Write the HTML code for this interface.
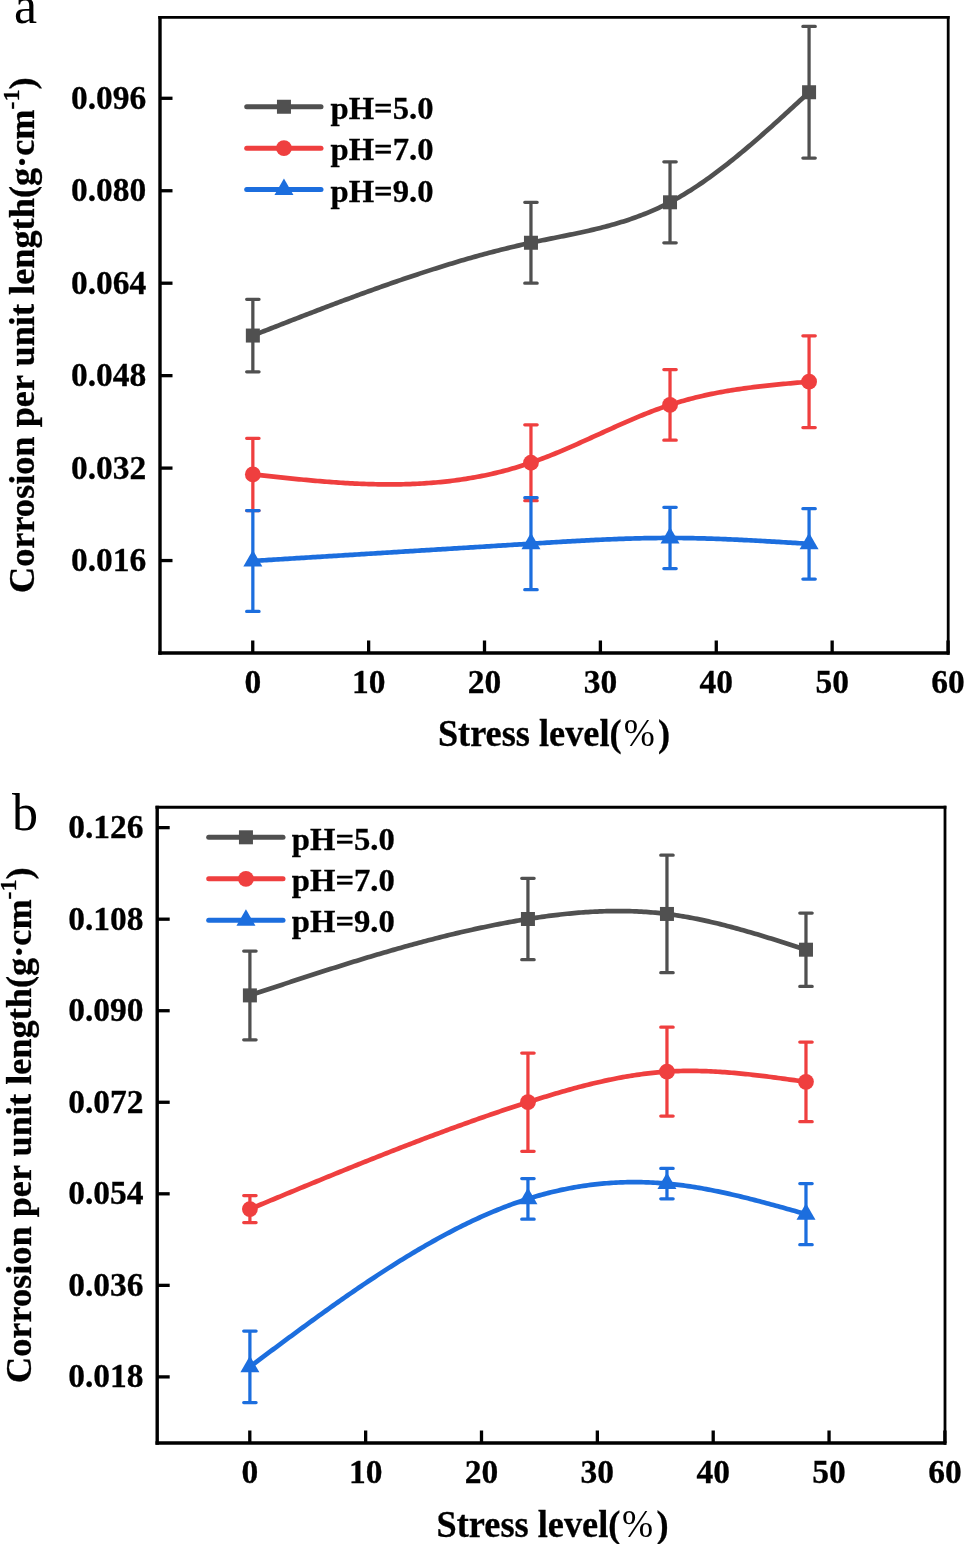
<!DOCTYPE html>
<html><head><meta charset="utf-8"><style>
html,body{margin:0;padding:0;background:#fff;}
body{width:964px;height:1544px;overflow:hidden;}
svg{display:block;will-change:transform;}
</style></head><body>
<svg width="964" height="1544" viewBox="0 0 964 1544">
<rect width="964" height="1544" fill="#fff"/>
<path d="M252.75 335.55 L255.07 334.64 L257.39 333.73 L259.70 332.82 L262.02 331.92 L264.34 331.01 L266.66 330.10 L268.97 329.19 L271.29 328.29 L273.61 327.38 L275.93 326.47 L278.24 325.57 L280.56 324.66 L282.88 323.76 L285.20 322.85 L287.51 321.95 L289.83 321.05 L292.15 320.15 L294.47 319.25 L296.78 318.35 L299.10 317.45 L301.42 316.55 L303.74 315.66 L306.05 314.76 L308.37 313.87 L310.69 312.98 L313.01 312.09 L315.33 311.20 L317.64 310.31 L319.96 309.43 L322.28 308.54 L324.60 307.66 L326.91 306.78 L329.23 305.90 L331.55 305.02 L333.87 304.15 L336.18 303.28 L338.50 302.40 L340.82 301.54 L343.14 300.67 L345.45 299.80 L347.77 298.94 L350.09 298.08 L352.41 297.22 L354.72 296.37 L357.04 295.52 L359.36 294.66 L361.68 293.82 L363.99 292.97 L366.31 292.13 L368.63 291.29 L370.95 290.45 L373.27 289.62 L375.58 288.79 L377.90 287.96 L380.22 287.14 L382.54 286.31 L384.85 285.50 L387.17 284.68 L389.49 283.87 L391.81 283.06 L394.12 282.25 L396.44 281.45 L398.76 280.65 L401.08 279.86 L403.39 279.07 L405.71 278.28 L408.03 277.49 L410.35 276.71 L412.66 275.94 L414.98 275.17 L417.30 274.40 L419.62 273.63 L421.93 272.87 L424.25 272.12 L426.57 271.36 L428.89 270.62 L431.21 269.87 L433.52 269.13 L435.84 268.40 L438.16 267.67 L440.48 266.94 L442.79 266.22 L445.11 265.50 L447.43 264.79 L449.75 264.08 L452.06 263.38 L454.38 262.68 L456.70 261.99 L459.02 261.30 L461.33 260.62 L463.65 259.94 L465.97 259.27 L468.29 258.60 L470.60 257.94 L472.92 257.28 L475.24 256.63 L477.56 255.99 L479.87 255.35 L482.19 254.71 L484.51 254.08 L486.83 253.46 L489.15 252.84 L491.46 252.23 L493.78 251.62 L496.10 251.02 L498.42 250.42 L500.73 249.84 L503.05 249.25 L505.37 248.68 L507.69 248.11 L510.00 247.54 L512.32 246.98 L514.64 246.43 L516.96 245.89 L519.27 245.35 L521.59 244.81 L523.91 244.29 L526.23 243.77 L528.54 243.26 L530.86 242.75 L533.18 242.25 L535.50 241.76 L537.81 241.27 L540.13 240.79 L542.45 240.31 L544.77 239.83 L547.09 239.36 L549.40 238.89 L551.72 238.42 L554.04 237.96 L556.36 237.49 L558.67 237.03 L560.99 236.56 L563.31 236.09 L565.63 235.62 L567.94 235.15 L570.26 234.67 L572.58 234.19 L574.90 233.71 L577.21 233.22 L579.53 232.72 L581.85 232.22 L584.17 231.71 L586.48 231.20 L588.80 230.67 L591.12 230.14 L593.44 229.60 L595.75 229.05 L598.07 228.48 L600.39 227.91 L602.71 227.32 L605.03 226.72 L607.34 226.11 L609.66 225.48 L611.98 224.84 L614.30 224.19 L616.61 223.52 L618.93 222.83 L621.25 222.12 L623.57 221.40 L625.88 220.66 L628.20 219.90 L630.52 219.12 L632.84 218.32 L635.15 217.50 L637.47 216.66 L639.79 215.80 L642.11 214.91 L644.42 214.01 L646.74 213.07 L649.06 212.12 L651.38 211.13 L653.69 210.13 L656.01 209.09 L658.33 208.03 L660.65 206.94 L662.97 205.83 L665.28 204.68 L667.60 203.51 L669.92 202.30 L672.24 201.06 L674.55 199.80 L676.87 198.50 L679.19 197.18 L681.51 195.83 L683.82 194.44 L686.14 193.04 L688.46 191.60 L690.78 190.14 L693.09 188.65 L695.41 187.13 L697.73 185.59 L700.05 184.03 L702.36 182.44 L704.68 180.83 L707.00 179.20 L709.32 177.54 L711.63 175.86 L713.95 174.16 L716.27 172.44 L718.59 170.70 L720.91 168.93 L723.22 167.15 L725.54 165.35 L727.86 163.53 L730.18 161.70 L732.49 159.84 L734.81 157.97 L737.13 156.08 L739.45 154.18 L741.76 152.26 L744.08 150.33 L746.40 148.38 L748.72 146.42 L751.03 144.45 L753.35 142.46 L755.67 140.46 L757.99 138.45 L760.30 136.42 L762.62 134.39 L764.94 132.35 L767.26 130.29 L769.57 128.23 L771.89 126.16 L774.21 124.08 L776.53 121.99 L778.85 119.90 L781.16 117.80 L783.48 115.69 L785.80 113.58 L788.12 111.46 L790.43 109.34 L792.75 107.21 L795.07 105.08 L797.39 102.94 L799.70 100.81 L802.02 98.67 L804.34 96.53 L806.66 94.39 L808.97 92.25" fill="none" stroke="#505050" stroke-width="4.7" stroke-linejoin="round"/>
<path d="M252.85 299.30V371.80M246.65 299.30H259.05M246.65 371.80H259.05" stroke="#505050" stroke-width="3.25" stroke-linecap="round" fill="none"/>
<path d="M530.96 202.30V283.20M524.76 202.30H537.16M524.76 283.20H537.16" stroke="#505050" stroke-width="3.25" stroke-linecap="round" fill="none"/>
<path d="M670.02 161.80V242.80M663.82 161.80H676.22M663.82 242.80H676.22" stroke="#505050" stroke-width="3.25" stroke-linecap="round" fill="none"/>
<path d="M809.07 26.40V158.10M802.87 26.40H815.27M802.87 158.10H815.27" stroke="#505050" stroke-width="3.25" stroke-linecap="round" fill="none"/>
<rect x="245.85" y="328.55" width="14.0" height="14.0" fill="#505050"/>
<rect x="523.96" y="235.75" width="14.0" height="14.0" fill="#505050"/>
<rect x="663.02" y="195.30" width="14.0" height="14.0" fill="#505050"/>
<rect x="802.07" y="85.25" width="14.0" height="14.0" fill="#505050"/>
<path d="M252.75 474.40 L255.07 474.65 L257.39 474.91 L259.70 475.16 L262.02 475.42 L264.34 475.67 L266.66 475.92 L268.97 476.17 L271.29 476.43 L273.61 476.67 L275.93 476.92 L278.24 477.17 L280.56 477.41 L282.88 477.66 L285.20 477.90 L287.51 478.14 L289.83 478.38 L292.15 478.61 L294.47 478.84 L296.78 479.07 L299.10 479.30 L301.42 479.52 L303.74 479.74 L306.05 479.96 L308.37 480.18 L310.69 480.39 L313.01 480.59 L315.33 480.80 L317.64 481.00 L319.96 481.19 L322.28 481.38 L324.60 481.57 L326.91 481.75 L329.23 481.93 L331.55 482.10 L333.87 482.27 L336.18 482.43 L338.50 482.59 L340.82 482.74 L343.14 482.89 L345.45 483.03 L347.77 483.16 L350.09 483.29 L352.41 483.41 L354.72 483.53 L357.04 483.64 L359.36 483.74 L361.68 483.84 L363.99 483.93 L366.31 484.01 L368.63 484.08 L370.95 484.15 L373.27 484.21 L375.58 484.26 L377.90 484.31 L380.22 484.35 L382.54 484.37 L384.85 484.39 L387.17 484.41 L389.49 484.41 L391.81 484.41 L394.12 484.39 L396.44 484.37 L398.76 484.34 L401.08 484.30 L403.39 484.25 L405.71 484.19 L408.03 484.12 L410.35 484.04 L412.66 483.95 L414.98 483.85 L417.30 483.74 L419.62 483.62 L421.93 483.49 L424.25 483.35 L426.57 483.20 L428.89 483.03 L431.21 482.86 L433.52 482.67 L435.84 482.48 L438.16 482.27 L440.48 482.05 L442.79 481.82 L445.11 481.57 L447.43 481.32 L449.75 481.05 L452.06 480.77 L454.38 480.47 L456.70 480.17 L459.02 479.85 L461.33 479.52 L463.65 479.17 L465.97 478.81 L468.29 478.44 L470.60 478.05 L472.92 477.65 L475.24 477.24 L477.56 476.81 L479.87 476.37 L482.19 475.91 L484.51 475.44 L486.83 474.96 L489.15 474.46 L491.46 473.94 L493.78 473.41 L496.10 472.86 L498.42 472.30 L500.73 471.73 L503.05 471.13 L505.37 470.53 L507.69 469.90 L510.00 469.26 L512.32 468.61 L514.64 467.93 L516.96 467.24 L519.27 466.54 L521.59 465.81 L523.91 465.07 L526.23 464.32 L528.54 463.54 L530.86 462.75 L533.18 461.94 L535.50 461.11 L537.81 460.27 L540.13 459.41 L542.45 458.54 L544.77 457.65 L547.09 456.75 L549.40 455.83 L551.72 454.90 L554.04 453.96 L556.36 453.01 L558.67 452.05 L560.99 451.08 L563.31 450.09 L565.63 449.10 L567.94 448.10 L570.26 447.09 L572.58 446.08 L574.90 445.06 L577.21 444.03 L579.53 442.99 L581.85 441.95 L584.17 440.91 L586.48 439.87 L588.80 438.82 L591.12 437.76 L593.44 436.71 L595.75 435.66 L598.07 434.60 L600.39 433.54 L602.71 432.49 L605.03 431.44 L607.34 430.38 L609.66 429.34 L611.98 428.29 L614.30 427.25 L616.61 426.21 L618.93 425.17 L621.25 424.15 L623.57 423.12 L625.88 422.11 L628.20 421.10 L630.52 420.10 L632.84 419.11 L635.15 418.13 L637.47 417.16 L639.79 416.19 L642.11 415.24 L644.42 414.30 L646.74 413.37 L649.06 412.46 L651.38 411.56 L653.69 410.67 L656.01 409.80 L658.33 408.94 L660.65 408.10 L662.97 407.27 L665.28 406.46 L667.60 405.67 L669.92 404.90 L672.24 404.15 L674.55 403.41 L676.87 402.69 L679.19 401.99 L681.51 401.31 L683.82 400.65 L686.14 400.00 L688.46 399.37 L690.78 398.75 L693.09 398.16 L695.41 397.57 L697.73 397.01 L700.05 396.45 L702.36 395.92 L704.68 395.39 L707.00 394.88 L709.32 394.39 L711.63 393.91 L713.95 393.44 L716.27 392.98 L718.59 392.54 L720.91 392.11 L723.22 391.69 L725.54 391.28 L727.86 390.88 L730.18 390.50 L732.49 390.12 L734.81 389.76 L737.13 389.41 L739.45 389.06 L741.76 388.73 L744.08 388.40 L746.40 388.08 L748.72 387.78 L751.03 387.48 L753.35 387.18 L755.67 386.90 L757.99 386.62 L760.30 386.35 L762.62 386.08 L764.94 385.83 L767.26 385.57 L769.57 385.33 L771.89 385.09 L774.21 384.85 L776.53 384.62 L778.85 384.39 L781.16 384.17 L783.48 383.95 L785.80 383.74 L788.12 383.52 L790.43 383.31 L792.75 383.11 L795.07 382.90 L797.39 382.70 L799.70 382.50 L802.02 382.30 L804.34 382.10 L806.66 381.90 L808.97 381.70" fill="none" stroke="#EF3F3F" stroke-width="4.7" stroke-linejoin="round"/>
<path d="M252.85 438.30V510.50M246.65 438.30H259.05M246.65 510.50H259.05" stroke="#EF3F3F" stroke-width="3.25" stroke-linecap="round" fill="none"/>
<path d="M530.96 424.80V500.70M524.76 424.80H537.16M524.76 500.70H537.16" stroke="#EF3F3F" stroke-width="3.25" stroke-linecap="round" fill="none"/>
<path d="M670.02 369.60V440.20M663.82 369.60H676.22M663.82 440.20H676.22" stroke="#EF3F3F" stroke-width="3.25" stroke-linecap="round" fill="none"/>
<path d="M809.07 335.80V427.60M802.87 335.80H815.27M802.87 427.60H815.27" stroke="#EF3F3F" stroke-width="3.25" stroke-linecap="round" fill="none"/>
<circle cx="252.85" cy="474.40" r="7.9" fill="#EF3F3F"/>
<circle cx="530.96" cy="462.75" r="7.9" fill="#EF3F3F"/>
<circle cx="670.02" cy="404.90" r="7.9" fill="#EF3F3F"/>
<circle cx="809.07" cy="381.70" r="7.9" fill="#EF3F3F"/>
<path d="M252.75 560.95 L255.07 560.81 L257.39 560.66 L259.70 560.52 L262.02 560.38 L264.34 560.23 L266.66 560.09 L268.97 559.95 L271.29 559.80 L273.61 559.66 L275.93 559.51 L278.24 559.37 L280.56 559.23 L282.88 559.08 L285.20 558.94 L287.51 558.80 L289.83 558.65 L292.15 558.51 L294.47 558.37 L296.78 558.22 L299.10 558.08 L301.42 557.94 L303.74 557.79 L306.05 557.65 L308.37 557.51 L310.69 557.36 L313.01 557.22 L315.33 557.07 L317.64 556.93 L319.96 556.79 L322.28 556.64 L324.60 556.50 L326.91 556.36 L329.23 556.21 L331.55 556.07 L333.87 555.93 L336.18 555.78 L338.50 555.64 L340.82 555.49 L343.14 555.35 L345.45 555.21 L347.77 555.06 L350.09 554.92 L352.41 554.78 L354.72 554.63 L357.04 554.49 L359.36 554.35 L361.68 554.20 L363.99 554.06 L366.31 553.92 L368.63 553.77 L370.95 553.63 L373.27 553.48 L375.58 553.34 L377.90 553.20 L380.22 553.05 L382.54 552.91 L384.85 552.77 L387.17 552.62 L389.49 552.48 L391.81 552.33 L394.12 552.19 L396.44 552.05 L398.76 551.90 L401.08 551.76 L403.39 551.62 L405.71 551.47 L408.03 551.33 L410.35 551.19 L412.66 551.04 L414.98 550.90 L417.30 550.75 L419.62 550.61 L421.93 550.47 L424.25 550.32 L426.57 550.18 L428.89 550.03 L431.21 549.89 L433.52 549.75 L435.84 549.60 L438.16 549.46 L440.48 549.32 L442.79 549.17 L445.11 549.03 L447.43 548.88 L449.75 548.74 L452.06 548.60 L454.38 548.45 L456.70 548.31 L459.02 548.16 L461.33 548.02 L463.65 547.88 L465.97 547.73 L468.29 547.59 L470.60 547.45 L472.92 547.30 L475.24 547.16 L477.56 547.01 L479.87 546.87 L482.19 546.73 L484.51 546.58 L486.83 546.44 L489.15 546.29 L491.46 546.15 L493.78 546.01 L496.10 545.86 L498.42 545.72 L500.73 545.57 L503.05 545.43 L505.37 545.29 L507.69 545.14 L510.00 545.00 L512.32 544.85 L514.64 544.71 L516.96 544.56 L519.27 544.42 L521.59 544.28 L523.91 544.13 L526.23 543.99 L528.54 543.84 L530.86 543.70 L533.18 543.56 L535.50 543.41 L537.81 543.27 L540.13 543.12 L542.45 542.98 L544.77 542.84 L547.09 542.70 L549.40 542.55 L551.72 542.41 L554.04 542.27 L556.36 542.13 L558.67 541.99 L560.99 541.85 L563.31 541.72 L565.63 541.58 L567.94 541.45 L570.26 541.31 L572.58 541.18 L574.90 541.05 L577.21 540.92 L579.53 540.79 L581.85 540.67 L584.17 540.55 L586.48 540.42 L588.80 540.30 L591.12 540.19 L593.44 540.07 L595.75 539.96 L598.07 539.84 L600.39 539.73 L602.71 539.63 L605.03 539.52 L607.34 539.42 L609.66 539.32 L611.98 539.23 L614.30 539.13 L616.61 539.04 L618.93 538.96 L621.25 538.87 L623.57 538.79 L625.88 538.71 L628.20 538.64 L630.52 538.57 L632.84 538.50 L635.15 538.43 L637.47 538.37 L639.79 538.32 L642.11 538.26 L644.42 538.21 L646.74 538.17 L649.06 538.13 L651.38 538.09 L653.69 538.06 L656.01 538.03 L658.33 538.00 L660.65 537.98 L662.97 537.97 L665.28 537.96 L667.60 537.95 L669.92 537.95 L672.24 537.95 L674.55 537.96 L676.87 537.98 L679.19 537.99 L681.51 538.02 L683.82 538.04 L686.14 538.07 L688.46 538.11 L690.78 538.15 L693.09 538.19 L695.41 538.24 L697.73 538.29 L700.05 538.35 L702.36 538.41 L704.68 538.47 L707.00 538.54 L709.32 538.61 L711.63 538.68 L713.95 538.76 L716.27 538.84 L718.59 538.92 L720.91 539.01 L723.22 539.10 L725.54 539.19 L727.86 539.29 L730.18 539.39 L732.49 539.49 L734.81 539.59 L737.13 539.70 L739.45 539.81 L741.76 539.92 L744.08 540.03 L746.40 540.15 L748.72 540.27 L751.03 540.39 L753.35 540.51 L755.67 540.64 L757.99 540.76 L760.30 540.89 L762.62 541.02 L764.94 541.15 L767.26 541.28 L769.57 541.42 L771.89 541.55 L774.21 541.69 L776.53 541.83 L778.85 541.97 L781.16 542.11 L783.48 542.25 L785.80 542.39 L788.12 542.54 L790.43 542.68 L792.75 542.83 L795.07 542.97 L797.39 543.12 L799.70 543.26 L802.02 543.41 L804.34 543.56 L806.66 543.70 L808.97 543.85" fill="none" stroke="#1C6EDE" stroke-width="4.7" stroke-linejoin="round"/>
<path d="M252.85 510.50V611.40M246.65 510.50H259.05M246.65 611.40H259.05" stroke="#1C6EDE" stroke-width="3.25" stroke-linecap="round" fill="none"/>
<path d="M530.96 497.70V589.70M524.76 497.70H537.16M524.76 589.70H537.16" stroke="#1C6EDE" stroke-width="3.25" stroke-linecap="round" fill="none"/>
<path d="M670.02 507.30V568.60M663.82 507.30H676.22M663.82 568.60H676.22" stroke="#1C6EDE" stroke-width="3.25" stroke-linecap="round" fill="none"/>
<path d="M809.07 508.70V579.00M802.87 508.70H815.27M802.87 579.00H815.27" stroke="#1C6EDE" stroke-width="3.25" stroke-linecap="round" fill="none"/>
<path d="M252.85 549.95L262.35 566.45L243.35 566.45Z" fill="#1C6EDE"/>
<path d="M530.96 532.70L540.46 549.20L521.46 549.20Z" fill="#1C6EDE"/>
<path d="M670.02 526.95L679.52 543.45L660.52 543.45Z" fill="#1C6EDE"/>
<path d="M809.07 532.85L818.57 549.35L799.57 549.35Z" fill="#1C6EDE"/>
<path d="M160.0 15.95V654.70" stroke="#000" stroke-width="3.4"/>
<path d="M158.30 653.0H949.60" stroke="#000" stroke-width="3.4"/>
<path d="M158.30 17.4H949.60" stroke="#000" stroke-width="2.9"/>
<path d="M948.2 15.95V654.70" stroke="#000" stroke-width="2.8"/>
<path d="M252.75 653.0V640.5" stroke="#000" stroke-width="3.3"/>
<text transform="translate(252.75 693.20) scale(1 1.03)" font-family="Liberation Serif" font-weight="bold" stroke="#000" stroke-width="0.3" font-size="33.5" text-anchor="middle">0</text>
<path d="M368.63 653.0V640.5" stroke="#000" stroke-width="3.3"/>
<text transform="translate(368.63 693.20) scale(1 1.03)" font-family="Liberation Serif" font-weight="bold" stroke="#000" stroke-width="0.3" font-size="33.5" text-anchor="middle">10</text>
<path d="M484.51 653.0V640.5" stroke="#000" stroke-width="3.3"/>
<text transform="translate(484.51 693.20) scale(1 1.03)" font-family="Liberation Serif" font-weight="bold" stroke="#000" stroke-width="0.3" font-size="33.5" text-anchor="middle">20</text>
<path d="M600.39 653.0V640.5" stroke="#000" stroke-width="3.3"/>
<text transform="translate(600.39 693.20) scale(1 1.03)" font-family="Liberation Serif" font-weight="bold" stroke="#000" stroke-width="0.3" font-size="33.5" text-anchor="middle">30</text>
<path d="M716.27 653.0V640.5" stroke="#000" stroke-width="3.3"/>
<text transform="translate(716.27 693.20) scale(1 1.03)" font-family="Liberation Serif" font-weight="bold" stroke="#000" stroke-width="0.3" font-size="33.5" text-anchor="middle">40</text>
<path d="M832.15 653.0V640.5" stroke="#000" stroke-width="3.3"/>
<text transform="translate(832.15 693.20) scale(1 1.03)" font-family="Liberation Serif" font-weight="bold" stroke="#000" stroke-width="0.3" font-size="33.5" text-anchor="middle">50</text>
<path d="M948.03 653.0V640.5" stroke="#000" stroke-width="3.3"/>
<text transform="translate(948.03 693.20) scale(1 1.03)" font-family="Liberation Serif" font-weight="bold" stroke="#000" stroke-width="0.3" font-size="33.5" text-anchor="middle">60</text>
<path d="M160.0 560.55H172.5" stroke="#000" stroke-width="3.3"/>
<text transform="translate(146.30 571.05) scale(1 1.03)" font-family="Liberation Serif" font-weight="bold" stroke="#000" stroke-width="0.3" font-size="33.5" text-anchor="end">0.016</text>
<path d="M160.0 468.10H172.5" stroke="#000" stroke-width="3.3"/>
<text transform="translate(146.30 478.60) scale(1 1.03)" font-family="Liberation Serif" font-weight="bold" stroke="#000" stroke-width="0.3" font-size="33.5" text-anchor="end">0.032</text>
<path d="M160.0 375.65H172.5" stroke="#000" stroke-width="3.3"/>
<text transform="translate(146.30 386.15) scale(1 1.03)" font-family="Liberation Serif" font-weight="bold" stroke="#000" stroke-width="0.3" font-size="33.5" text-anchor="end">0.048</text>
<path d="M160.0 283.20H172.5" stroke="#000" stroke-width="3.3"/>
<text transform="translate(146.30 293.70) scale(1 1.03)" font-family="Liberation Serif" font-weight="bold" stroke="#000" stroke-width="0.3" font-size="33.5" text-anchor="end">0.064</text>
<path d="M160.0 190.75H172.5" stroke="#000" stroke-width="3.3"/>
<text transform="translate(146.30 201.25) scale(1 1.03)" font-family="Liberation Serif" font-weight="bold" stroke="#000" stroke-width="0.3" font-size="33.5" text-anchor="end">0.080</text>
<path d="M160.0 98.29H172.5" stroke="#000" stroke-width="3.3"/>
<text transform="translate(146.30 108.79) scale(1 1.03)" font-family="Liberation Serif" font-weight="bold" stroke="#000" stroke-width="0.3" font-size="33.5" text-anchor="end">0.096</text>
<text transform="translate(437.90 746.30) scale(1 1.045)" font-family="Liberation Serif" font-weight="bold" stroke="#000" stroke-width="0.3" font-size="36.3">Stress level(</text>
<text transform="translate(623.70 746.30) scale(0.91 1)" font-family="Liberation Serif" font-size="41">%</text>
<text transform="translate(658.10 746.30) scale(1 1.045)" font-family="Liberation Serif" font-weight="bold" stroke="#000" stroke-width="0.3" font-size="36.3">)</text>
<text transform="translate(34.00 335.20) rotate(-90)" font-family="Liberation Serif" font-weight="bold" stroke="#000" stroke-width="0.3" font-size="36.3" text-anchor="middle">Corrosion per unit length(g·cm<tspan font-size="24" dy="-14.6">-1</tspan><tspan dy="14.6">)</tspan></text>
<path d="M246.7 106.75H321.0" stroke="#505050" stroke-width="5.0" stroke-linecap="round"/>
<rect x="276.95" y="99.75" width="14.0" height="14.0" fill="#505050"/>
<text transform="translate(330.5 118.95) scale(1 0.98)" font-family="Liberation Serif" font-weight="bold" stroke="#000" stroke-width="0.3" font-size="32.7">pH=5.0</text>
<path d="M246.7 148.2H321.0" stroke="#EF3F3F" stroke-width="5.0" stroke-linecap="round"/>
<circle cx="283.95" cy="148.20" r="7.9" fill="#EF3F3F"/>
<text transform="translate(330.5 160.40) scale(1 0.98)" font-family="Liberation Serif" font-weight="bold" stroke="#000" stroke-width="0.3" font-size="32.7">pH=7.0</text>
<path d="M246.7 189.6H321.0" stroke="#1C6EDE" stroke-width="5.0" stroke-linecap="round"/>
<path d="M283.95 178.60L293.45 195.10L274.45 195.10Z" fill="#1C6EDE"/>
<text transform="translate(330.5 201.80) scale(1 0.98)" font-family="Liberation Serif" font-weight="bold" stroke="#000" stroke-width="0.3" font-size="32.7">pH=9.0</text>
<text x="14.0" y="22.9" font-family="Liberation Serif" font-size="52">a</text>
<path d="M249.80 995.40 L252.12 994.63 L254.43 993.86 L256.75 993.09 L259.07 992.32 L261.38 991.55 L263.70 990.78 L266.02 990.02 L268.34 989.25 L270.65 988.48 L272.97 987.71 L275.29 986.95 L277.60 986.18 L279.92 985.41 L282.24 984.65 L284.56 983.89 L286.87 983.12 L289.19 982.36 L291.51 981.60 L293.82 980.84 L296.14 980.08 L298.46 979.32 L300.77 978.56 L303.09 977.81 L305.41 977.05 L307.73 976.30 L310.04 975.55 L312.36 974.80 L314.68 974.05 L316.99 973.30 L319.31 972.56 L321.63 971.81 L323.94 971.07 L326.26 970.33 L328.58 969.59 L330.89 968.86 L333.21 968.12 L335.53 967.39 L337.85 966.66 L340.16 965.93 L342.48 965.20 L344.80 964.48 L347.11 963.76 L349.43 963.04 L351.75 962.32 L354.07 961.60 L356.38 960.89 L358.70 960.18 L361.02 959.48 L363.33 958.77 L365.65 958.07 L367.97 957.37 L370.28 956.67 L372.60 955.98 L374.92 955.29 L377.24 954.60 L379.55 953.92 L381.87 953.24 L384.19 952.56 L386.50 951.88 L388.82 951.21 L391.14 950.54 L393.45 949.88 L395.77 949.22 L398.09 948.56 L400.41 947.91 L402.72 947.26 L405.04 946.61 L407.36 945.96 L409.67 945.33 L411.99 944.69 L414.31 944.06 L416.62 943.43 L418.94 942.81 L421.26 942.19 L423.58 941.57 L425.89 940.96 L428.21 940.35 L430.53 939.75 L432.84 939.15 L435.16 938.55 L437.48 937.96 L439.79 937.38 L442.11 936.80 L444.43 936.22 L446.75 935.65 L449.06 935.08 L451.38 934.52 L453.70 933.96 L456.01 933.41 L458.33 932.86 L460.65 932.32 L462.96 931.78 L465.28 931.25 L467.60 930.72 L469.92 930.20 L472.23 929.68 L474.55 929.17 L476.87 928.66 L479.18 928.16 L481.50 927.67 L483.82 927.18 L486.13 926.69 L488.45 926.22 L490.77 925.74 L493.09 925.28 L495.40 924.81 L497.72 924.36 L500.04 923.91 L502.35 923.47 L504.67 923.03 L506.99 922.60 L509.30 922.17 L511.62 921.75 L513.94 921.34 L516.26 920.93 L518.57 920.53 L520.89 920.14 L523.21 919.75 L525.52 919.37 L527.84 919.00 L530.16 918.63 L532.47 918.27 L534.79 917.92 L537.11 917.57 L539.42 917.23 L541.74 916.90 L544.06 916.58 L546.38 916.26 L548.69 915.95 L551.01 915.65 L553.33 915.36 L555.64 915.07 L557.96 914.80 L560.28 914.53 L562.60 914.27 L564.91 914.02 L567.23 913.78 L569.55 913.55 L571.86 913.33 L574.18 913.11 L576.50 912.91 L578.81 912.71 L581.13 912.53 L583.45 912.36 L585.77 912.19 L588.08 912.04 L590.40 911.89 L592.72 911.76 L595.03 911.64 L597.35 911.53 L599.67 911.43 L601.98 911.34 L604.30 911.26 L606.62 911.19 L608.94 911.14 L611.25 911.10 L613.57 911.06 L615.89 911.04 L618.20 911.04 L620.52 911.04 L622.84 911.06 L625.15 911.09 L627.47 911.13 L629.79 911.19 L632.11 911.26 L634.42 911.34 L636.74 911.43 L639.06 911.54 L641.37 911.67 L643.69 911.80 L646.01 911.95 L648.32 912.12 L650.64 912.29 L652.96 912.49 L655.28 912.69 L657.59 912.91 L659.91 913.15 L662.23 913.40 L664.54 913.67 L666.86 913.95 L669.18 914.25 L671.49 914.56 L673.81 914.89 L676.13 915.23 L678.45 915.58 L680.76 915.95 L683.08 916.33 L685.40 916.73 L687.71 917.14 L690.03 917.57 L692.35 918.00 L694.66 918.45 L696.98 918.91 L699.30 919.38 L701.62 919.87 L703.93 920.36 L706.25 920.87 L708.57 921.39 L710.88 921.92 L713.20 922.46 L715.52 923.01 L717.83 923.57 L720.15 924.14 L722.47 924.72 L724.79 925.30 L727.10 925.90 L729.42 926.51 L731.74 927.12 L734.05 927.74 L736.37 928.37 L738.69 929.01 L741.00 929.66 L743.32 930.31 L745.64 930.97 L747.96 931.64 L750.27 932.31 L752.59 932.99 L754.91 933.67 L757.22 934.36 L759.54 935.06 L761.86 935.76 L764.17 936.46 L766.49 937.17 L768.81 937.89 L771.12 938.61 L773.44 939.33 L775.76 940.05 L778.08 940.78 L780.39 941.52 L782.71 942.25 L785.03 942.99 L787.34 943.73 L789.66 944.47 L791.98 945.21 L794.30 945.96 L796.61 946.71 L798.93 947.45 L801.25 948.20 L803.56 948.95 L805.88 949.70" fill="none" stroke="#505050" stroke-width="4.7" stroke-linejoin="round"/>
<path d="M249.90 951.00V1039.80M243.70 951.00H256.10M243.70 1039.80H256.10" stroke="#505050" stroke-width="3.25" stroke-linecap="round" fill="none"/>
<path d="M527.94 878.30V959.70M521.74 878.30H534.14M521.74 959.70H534.14" stroke="#505050" stroke-width="3.25" stroke-linecap="round" fill="none"/>
<path d="M666.96 855.20V972.70M660.76 855.20H673.16M660.76 972.70H673.16" stroke="#505050" stroke-width="3.25" stroke-linecap="round" fill="none"/>
<path d="M805.98 913.00V986.40M799.78 913.00H812.18M799.78 986.40H812.18" stroke="#505050" stroke-width="3.25" stroke-linecap="round" fill="none"/>
<rect x="242.90" y="988.40" width="14.0" height="14.0" fill="#505050"/>
<rect x="520.94" y="912.00" width="14.0" height="14.0" fill="#505050"/>
<rect x="659.96" y="906.95" width="14.0" height="14.0" fill="#505050"/>
<rect x="798.98" y="942.70" width="14.0" height="14.0" fill="#505050"/>
<path d="M249.80 1209.10 L252.12 1208.14 L254.43 1207.17 L256.75 1206.21 L259.07 1205.24 L261.38 1204.28 L263.70 1203.31 L266.02 1202.35 L268.34 1201.39 L270.65 1200.42 L272.97 1199.46 L275.29 1198.50 L277.60 1197.53 L279.92 1196.57 L282.24 1195.61 L284.56 1194.65 L286.87 1193.69 L289.19 1192.73 L291.51 1191.77 L293.82 1190.81 L296.14 1189.85 L298.46 1188.89 L300.77 1187.93 L303.09 1186.98 L305.41 1186.02 L307.73 1185.07 L310.04 1184.11 L312.36 1183.16 L314.68 1182.21 L316.99 1181.25 L319.31 1180.30 L321.63 1179.35 L323.94 1178.40 L326.26 1177.45 L328.58 1176.51 L330.89 1175.56 L333.21 1174.62 L335.53 1173.67 L337.85 1172.73 L340.16 1171.79 L342.48 1170.85 L344.80 1169.91 L347.11 1168.97 L349.43 1168.03 L351.75 1167.10 L354.07 1166.16 L356.38 1165.23 L358.70 1164.30 L361.02 1163.37 L363.33 1162.44 L365.65 1161.51 L367.97 1160.59 L370.28 1159.66 L372.60 1158.74 L374.92 1157.82 L377.24 1156.90 L379.55 1155.99 L381.87 1155.07 L384.19 1154.16 L386.50 1153.24 L388.82 1152.33 L391.14 1151.43 L393.45 1150.52 L395.77 1149.61 L398.09 1148.71 L400.41 1147.81 L402.72 1146.91 L405.04 1146.02 L407.36 1145.12 L409.67 1144.23 L411.99 1143.34 L414.31 1142.45 L416.62 1141.56 L418.94 1140.68 L421.26 1139.80 L423.58 1138.92 L425.89 1138.04 L428.21 1137.17 L430.53 1136.30 L432.84 1135.43 L435.16 1134.56 L437.48 1133.69 L439.79 1132.83 L442.11 1131.97 L444.43 1131.11 L446.75 1130.26 L449.06 1129.41 L451.38 1128.56 L453.70 1127.71 L456.01 1126.86 L458.33 1126.02 L460.65 1125.18 L462.96 1124.35 L465.28 1123.52 L467.60 1122.68 L469.92 1121.86 L472.23 1121.03 L474.55 1120.21 L476.87 1119.39 L479.18 1118.58 L481.50 1117.76 L483.82 1116.96 L486.13 1116.15 L488.45 1115.35 L490.77 1114.55 L493.09 1113.75 L495.40 1112.96 L497.72 1112.16 L500.04 1111.38 L502.35 1110.59 L504.67 1109.81 L506.99 1109.04 L509.30 1108.26 L511.62 1107.49 L513.94 1106.73 L516.26 1105.96 L518.57 1105.20 L520.89 1104.45 L523.21 1103.69 L525.52 1102.95 L527.84 1102.20 L530.16 1101.46 L532.47 1100.72 L534.79 1099.99 L537.11 1099.26 L539.42 1098.53 L541.74 1097.81 L544.06 1097.10 L546.38 1096.39 L548.69 1095.68 L551.01 1094.98 L553.33 1094.29 L555.64 1093.60 L557.96 1092.92 L560.28 1092.25 L562.60 1091.58 L564.91 1090.92 L567.23 1090.26 L569.55 1089.62 L571.86 1088.98 L574.18 1088.34 L576.50 1087.72 L578.81 1087.10 L581.13 1086.49 L583.45 1085.89 L585.77 1085.30 L588.08 1084.72 L590.40 1084.15 L592.72 1083.58 L595.03 1083.03 L597.35 1082.48 L599.67 1081.95 L601.98 1081.42 L604.30 1080.91 L606.62 1080.40 L608.94 1079.91 L611.25 1079.43 L613.57 1078.96 L615.89 1078.50 L618.20 1078.05 L620.52 1077.61 L622.84 1077.18 L625.15 1076.77 L627.47 1076.37 L629.79 1075.98 L632.11 1075.61 L634.42 1075.25 L636.74 1074.90 L639.06 1074.56 L641.37 1074.24 L643.69 1073.93 L646.01 1073.64 L648.32 1073.36 L650.64 1073.09 L652.96 1072.84 L655.28 1072.60 L657.59 1072.38 L659.91 1072.17 L662.23 1071.98 L664.54 1071.81 L666.86 1071.65 L669.18 1071.51 L671.49 1071.38 L673.81 1071.27 L676.13 1071.17 L678.45 1071.09 L680.76 1071.02 L683.08 1070.97 L685.40 1070.93 L687.71 1070.91 L690.03 1070.90 L692.35 1070.90 L694.66 1070.92 L696.98 1070.94 L699.30 1070.99 L701.62 1071.04 L703.93 1071.10 L706.25 1071.18 L708.57 1071.27 L710.88 1071.37 L713.20 1071.48 L715.52 1071.60 L717.83 1071.74 L720.15 1071.88 L722.47 1072.03 L724.79 1072.19 L727.10 1072.36 L729.42 1072.54 L731.74 1072.73 L734.05 1072.93 L736.37 1073.14 L738.69 1073.35 L741.00 1073.57 L743.32 1073.80 L745.64 1074.04 L747.96 1074.28 L750.27 1074.53 L752.59 1074.79 L754.91 1075.05 L757.22 1075.32 L759.54 1075.60 L761.86 1075.87 L764.17 1076.16 L766.49 1076.45 L768.81 1076.74 L771.12 1077.04 L773.44 1077.34 L775.76 1077.65 L778.08 1077.96 L780.39 1078.27 L782.71 1078.59 L785.03 1078.91 L787.34 1079.23 L789.66 1079.55 L791.98 1079.88 L794.30 1080.20 L796.61 1080.53 L798.93 1080.86 L801.25 1081.19 L803.56 1081.52 L805.88 1081.85" fill="none" stroke="#EF3F3F" stroke-width="4.7" stroke-linejoin="round"/>
<path d="M249.90 1195.60V1222.60M243.70 1195.60H256.10M243.70 1222.60H256.10" stroke="#EF3F3F" stroke-width="3.25" stroke-linecap="round" fill="none"/>
<path d="M527.94 1053.10V1151.30M521.74 1053.10H534.14M521.74 1151.30H534.14" stroke="#EF3F3F" stroke-width="3.25" stroke-linecap="round" fill="none"/>
<path d="M666.96 1027.20V1116.10M660.76 1027.20H673.16M660.76 1116.10H673.16" stroke="#EF3F3F" stroke-width="3.25" stroke-linecap="round" fill="none"/>
<path d="M805.98 1042.00V1121.70M799.78 1042.00H812.18M799.78 1121.70H812.18" stroke="#EF3F3F" stroke-width="3.25" stroke-linecap="round" fill="none"/>
<circle cx="249.90" cy="1209.10" r="7.9" fill="#EF3F3F"/>
<circle cx="527.94" cy="1102.20" r="7.9" fill="#EF3F3F"/>
<circle cx="666.96" cy="1071.65" r="7.9" fill="#EF3F3F"/>
<circle cx="805.98" cy="1081.85" r="7.9" fill="#EF3F3F"/>
<path d="M249.80 1366.80 L252.12 1365.07 L254.43 1363.34 L256.75 1361.61 L259.07 1359.88 L261.38 1358.14 L263.70 1356.42 L266.02 1354.69 L268.34 1352.96 L270.65 1351.23 L272.97 1349.51 L275.29 1347.78 L277.60 1346.06 L279.92 1344.34 L282.24 1342.62 L284.56 1340.90 L286.87 1339.19 L289.19 1337.48 L291.51 1335.77 L293.82 1334.06 L296.14 1332.35 L298.46 1330.65 L300.77 1328.95 L303.09 1327.25 L305.41 1325.56 L307.73 1323.87 L310.04 1322.18 L312.36 1320.50 L314.68 1318.82 L316.99 1317.15 L319.31 1315.47 L321.63 1313.81 L323.94 1312.14 L326.26 1310.49 L328.58 1308.83 L330.89 1307.18 L333.21 1305.54 L335.53 1303.90 L337.85 1302.26 L340.16 1300.63 L342.48 1299.01 L344.80 1297.39 L347.11 1295.78 L349.43 1294.17 L351.75 1292.57 L354.07 1290.98 L356.38 1289.39 L358.70 1287.81 L361.02 1286.23 L363.33 1284.66 L365.65 1283.10 L367.97 1281.55 L370.28 1280.00 L372.60 1278.46 L374.92 1276.92 L377.24 1275.40 L379.55 1273.88 L381.87 1272.37 L384.19 1270.87 L386.50 1269.37 L388.82 1267.88 L391.14 1266.41 L393.45 1264.94 L395.77 1263.47 L398.09 1262.02 L400.41 1260.58 L402.72 1259.14 L405.04 1257.72 L407.36 1256.30 L409.67 1254.89 L411.99 1253.50 L414.31 1252.11 L416.62 1250.73 L418.94 1249.36 L421.26 1248.00 L423.58 1246.66 L425.89 1245.32 L428.21 1243.99 L430.53 1242.68 L432.84 1241.37 L435.16 1240.08 L437.48 1238.79 L439.79 1237.52 L442.11 1236.26 L444.43 1235.01 L446.75 1233.77 L449.06 1232.55 L451.38 1231.33 L453.70 1230.13 L456.01 1228.94 L458.33 1227.76 L460.65 1226.60 L462.96 1225.45 L465.28 1224.31 L467.60 1223.18 L469.92 1222.07 L472.23 1220.97 L474.55 1219.88 L476.87 1218.80 L479.18 1217.74 L481.50 1216.70 L483.82 1215.66 L486.13 1214.64 L488.45 1213.64 L490.77 1212.65 L493.09 1211.67 L495.40 1210.71 L497.72 1209.76 L500.04 1208.83 L502.35 1207.91 L504.67 1207.01 L506.99 1206.13 L509.30 1205.25 L511.62 1204.40 L513.94 1203.56 L516.26 1202.73 L518.57 1201.92 L520.89 1201.13 L523.21 1200.35 L525.52 1199.59 L527.84 1198.85 L530.16 1198.12 L532.47 1197.41 L534.79 1196.72 L537.11 1196.04 L539.42 1195.38 L541.74 1194.73 L544.06 1194.11 L546.38 1193.49 L548.69 1192.90 L551.01 1192.32 L553.33 1191.76 L555.64 1191.21 L557.96 1190.68 L560.28 1190.17 L562.60 1189.67 L564.91 1189.19 L567.23 1188.72 L569.55 1188.27 L571.86 1187.84 L574.18 1187.42 L576.50 1187.02 L578.81 1186.64 L581.13 1186.27 L583.45 1185.91 L585.77 1185.58 L588.08 1185.26 L590.40 1184.95 L592.72 1184.66 L595.03 1184.39 L597.35 1184.13 L599.67 1183.89 L601.98 1183.66 L604.30 1183.45 L606.62 1183.26 L608.94 1183.08 L611.25 1182.91 L613.57 1182.76 L615.89 1182.63 L618.20 1182.51 L620.52 1182.41 L622.84 1182.33 L625.15 1182.26 L627.47 1182.20 L629.79 1182.16 L632.11 1182.14 L634.42 1182.13 L636.74 1182.14 L639.06 1182.16 L641.37 1182.19 L643.69 1182.25 L646.01 1182.31 L648.32 1182.40 L650.64 1182.49 L652.96 1182.61 L655.28 1182.73 L657.59 1182.88 L659.91 1183.04 L662.23 1183.21 L664.54 1183.40 L666.86 1183.60 L669.18 1183.82 L671.49 1184.05 L673.81 1184.30 L676.13 1184.56 L678.45 1184.83 L680.76 1185.12 L683.08 1185.43 L685.40 1185.74 L687.71 1186.07 L690.03 1186.41 L692.35 1186.76 L694.66 1187.13 L696.98 1187.51 L699.30 1187.90 L701.62 1188.30 L703.93 1188.71 L706.25 1189.13 L708.57 1189.57 L710.88 1190.01 L713.20 1190.46 L715.52 1190.93 L717.83 1191.40 L720.15 1191.89 L722.47 1192.38 L724.79 1192.88 L727.10 1193.39 L729.42 1193.91 L731.74 1194.44 L734.05 1194.97 L736.37 1195.52 L738.69 1196.07 L741.00 1196.62 L743.32 1197.19 L745.64 1197.76 L747.96 1198.34 L750.27 1198.92 L752.59 1199.51 L754.91 1200.10 L757.22 1200.71 L759.54 1201.31 L761.86 1201.92 L764.17 1202.54 L766.49 1203.16 L768.81 1203.78 L771.12 1204.41 L773.44 1205.04 L775.76 1205.68 L778.08 1206.32 L780.39 1206.96 L782.71 1207.61 L785.03 1208.25 L787.34 1208.90 L789.66 1209.55 L791.98 1210.21 L794.30 1210.86 L796.61 1211.52 L798.93 1212.18 L801.25 1212.83 L803.56 1213.49 L805.88 1214.15" fill="none" stroke="#1C6EDE" stroke-width="4.7" stroke-linejoin="round"/>
<path d="M249.90 1331.10V1402.50M243.70 1331.10H256.10M243.70 1402.50H256.10" stroke="#1C6EDE" stroke-width="3.25" stroke-linecap="round" fill="none"/>
<path d="M527.94 1178.50V1219.20M521.74 1178.50H534.14M521.74 1219.20H534.14" stroke="#1C6EDE" stroke-width="3.25" stroke-linecap="round" fill="none"/>
<path d="M666.96 1168.40V1198.80M660.76 1168.40H673.16M660.76 1198.80H673.16" stroke="#1C6EDE" stroke-width="3.25" stroke-linecap="round" fill="none"/>
<path d="M805.98 1183.60V1244.70M799.78 1183.60H812.18M799.78 1244.70H812.18" stroke="#1C6EDE" stroke-width="3.25" stroke-linecap="round" fill="none"/>
<path d="M249.90 1355.80L259.40 1372.30L240.40 1372.30Z" fill="#1C6EDE"/>
<path d="M527.94 1187.85L537.44 1204.35L518.44 1204.35Z" fill="#1C6EDE"/>
<path d="M666.96 1172.60L676.46 1189.10L657.46 1189.10Z" fill="#1C6EDE"/>
<path d="M805.98 1203.15L815.48 1219.65L796.48 1219.65Z" fill="#1C6EDE"/>
<path d="M157.2 805.85V1444.70" stroke="#000" stroke-width="3.4"/>
<path d="M155.50 1443.0H946.40" stroke="#000" stroke-width="3.4"/>
<path d="M155.50 807.3H946.40" stroke="#000" stroke-width="2.9"/>
<path d="M945.0 805.85V1444.70" stroke="#000" stroke-width="2.8"/>
<path d="M249.80 1443.0V1430.5" stroke="#000" stroke-width="3.3"/>
<text transform="translate(249.80 1483.20) scale(1 1.03)" font-family="Liberation Serif" font-weight="bold" stroke="#000" stroke-width="0.3" font-size="33.5" text-anchor="middle">0</text>
<path d="M365.65 1443.0V1430.5" stroke="#000" stroke-width="3.3"/>
<text transform="translate(365.65 1483.20) scale(1 1.03)" font-family="Liberation Serif" font-weight="bold" stroke="#000" stroke-width="0.3" font-size="33.5" text-anchor="middle">10</text>
<path d="M481.50 1443.0V1430.5" stroke="#000" stroke-width="3.3"/>
<text transform="translate(481.50 1483.20) scale(1 1.03)" font-family="Liberation Serif" font-weight="bold" stroke="#000" stroke-width="0.3" font-size="33.5" text-anchor="middle">20</text>
<path d="M597.35 1443.0V1430.5" stroke="#000" stroke-width="3.3"/>
<text transform="translate(597.35 1483.20) scale(1 1.03)" font-family="Liberation Serif" font-weight="bold" stroke="#000" stroke-width="0.3" font-size="33.5" text-anchor="middle">30</text>
<path d="M713.20 1443.0V1430.5" stroke="#000" stroke-width="3.3"/>
<text transform="translate(713.20 1483.20) scale(1 1.03)" font-family="Liberation Serif" font-weight="bold" stroke="#000" stroke-width="0.3" font-size="33.5" text-anchor="middle">40</text>
<path d="M829.05 1443.0V1430.5" stroke="#000" stroke-width="3.3"/>
<text transform="translate(829.05 1483.20) scale(1 1.03)" font-family="Liberation Serif" font-weight="bold" stroke="#000" stroke-width="0.3" font-size="33.5" text-anchor="middle">50</text>
<path d="M944.90 1443.0V1430.5" stroke="#000" stroke-width="3.3"/>
<text transform="translate(944.90 1483.20) scale(1 1.03)" font-family="Liberation Serif" font-weight="bold" stroke="#000" stroke-width="0.3" font-size="33.5" text-anchor="middle">60</text>
<path d="M157.2 1376.89H169.7" stroke="#000" stroke-width="3.3"/>
<text transform="translate(143.50 1387.39) scale(1 1.03)" font-family="Liberation Serif" font-weight="bold" stroke="#000" stroke-width="0.3" font-size="33.5" text-anchor="end">0.018</text>
<path d="M157.2 1285.35H169.7" stroke="#000" stroke-width="3.3"/>
<text transform="translate(143.50 1295.85) scale(1 1.03)" font-family="Liberation Serif" font-weight="bold" stroke="#000" stroke-width="0.3" font-size="33.5" text-anchor="end">0.036</text>
<path d="M157.2 1193.81H169.7" stroke="#000" stroke-width="3.3"/>
<text transform="translate(143.50 1204.31) scale(1 1.03)" font-family="Liberation Serif" font-weight="bold" stroke="#000" stroke-width="0.3" font-size="33.5" text-anchor="end">0.054</text>
<path d="M157.2 1102.26H169.7" stroke="#000" stroke-width="3.3"/>
<text transform="translate(143.50 1112.76) scale(1 1.03)" font-family="Liberation Serif" font-weight="bold" stroke="#000" stroke-width="0.3" font-size="33.5" text-anchor="end">0.072</text>
<path d="M157.2 1010.72H169.7" stroke="#000" stroke-width="3.3"/>
<text transform="translate(143.50 1021.22) scale(1 1.03)" font-family="Liberation Serif" font-weight="bold" stroke="#000" stroke-width="0.3" font-size="33.5" text-anchor="end">0.090</text>
<path d="M157.2 919.18H169.7" stroke="#000" stroke-width="3.3"/>
<text transform="translate(143.50 929.68) scale(1 1.03)" font-family="Liberation Serif" font-weight="bold" stroke="#000" stroke-width="0.3" font-size="33.5" text-anchor="end">0.108</text>
<path d="M157.2 827.64H169.7" stroke="#000" stroke-width="3.3"/>
<text transform="translate(143.50 838.14) scale(1 1.03)" font-family="Liberation Serif" font-weight="bold" stroke="#000" stroke-width="0.3" font-size="33.5" text-anchor="end">0.126</text>
<text transform="translate(436.60 1537.00) scale(1 1.045)" font-family="Liberation Serif" font-weight="bold" stroke="#000" stroke-width="0.3" font-size="36.3">Stress level(</text>
<text transform="translate(622.10 1537.00) scale(0.91 1)" font-family="Liberation Serif" font-size="41">%</text>
<text transform="translate(656.50 1537.00) scale(1 1.045)" font-family="Liberation Serif" font-weight="bold" stroke="#000" stroke-width="0.3" font-size="36.3">)</text>
<text transform="translate(31.00 1125.15) rotate(-90)" font-family="Liberation Serif" font-weight="bold" stroke="#000" stroke-width="0.3" font-size="36.3" text-anchor="middle">Corrosion per unit length(g·cm<tspan font-size="24" dy="-14.6">-1</tspan><tspan dy="14.6">)</tspan></text>
<path d="M208.7 837.3H283.0" stroke="#505050" stroke-width="5.0" stroke-linecap="round"/>
<rect x="238.95" y="830.30" width="14.0" height="14.0" fill="#505050"/>
<text transform="translate(291.8 849.50) scale(1 0.98)" font-family="Liberation Serif" font-weight="bold" stroke="#000" stroke-width="0.3" font-size="32.7">pH=5.0</text>
<path d="M208.7 878.8H283.0" stroke="#EF3F3F" stroke-width="5.0" stroke-linecap="round"/>
<circle cx="245.95" cy="878.80" r="7.9" fill="#EF3F3F"/>
<text transform="translate(291.8 891.00) scale(1 0.98)" font-family="Liberation Serif" font-weight="bold" stroke="#000" stroke-width="0.3" font-size="32.7">pH=7.0</text>
<path d="M208.7 920.2H283.0" stroke="#1C6EDE" stroke-width="5.0" stroke-linecap="round"/>
<path d="M245.95 909.20L255.45 925.70L236.45 925.70Z" fill="#1C6EDE"/>
<text transform="translate(291.8 932.40) scale(1 0.98)" font-family="Liberation Serif" font-weight="bold" stroke="#000" stroke-width="0.3" font-size="32.7">pH=9.0</text>
<text x="12.0" y="830.4" font-family="Liberation Serif" font-size="52">b</text>
</svg>
</body></html>
